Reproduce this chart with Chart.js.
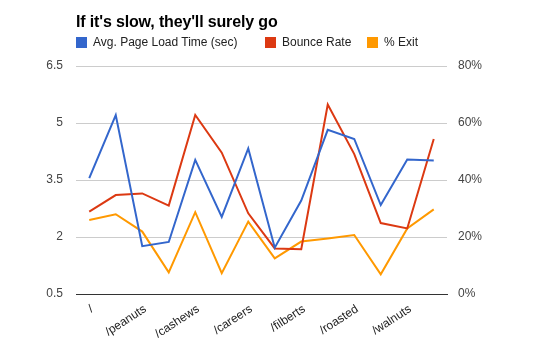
<!DOCTYPE html>
<html>
<head>
<meta charset="utf-8">
<script src="https://cdn.jsdelivr.net/npm/chart.js@4/dist/chart.umd.min.js"></script>
<style>
html,body{margin:0;padding:0;background:#fff;}
#wrap{position:relative;width:535px;height:361px;font-family:'Liberation Sans',Arial,sans-serif;}
#c{position:absolute;left:0;top:0;}
#title{position:absolute;left:76px;top:12px;font-size:16px;line-height:20px;font-weight:bold;color:#000;letter-spacing:-0.15px;white-space:nowrap;}
.lg{position:absolute;top:36px;height:13px;font-size:12px;line-height:13px;color:#222;white-space:nowrap;}
.lg i{position:absolute;left:0;top:1px;width:11px;height:11px;}
.lg span{position:absolute;left:17px;top:0;}
</style>
</head>
<body>
<div id="wrap">
  <canvas id="c" width="535" height="361"></canvas>
  <div id="title"></div>
  <div id="legend"></div>
</div>
<script>
const chartTitle = "If it's slow, they'll surely go";
const categories = ['/', '', '/peanuts', '', '/cashews', '', '/careers', '', '/filberts', '', '/roasted', '', '/walnuts', ''];
const loadTime = [3.55, 5.21, 1.76, 1.87, 4.03, 2.53, 4.33, 1.72, 2.96, 4.82, 4.58, 2.84, 4.04, 4.01];
const bounceRate = [28.9, 34.7, 35.3, 31.0, 62.8, 49.6, 28.3, 16.0, 15.7, 66.5, 49.1, 24.9, 23.0, 54.4];
const exitRate = [26.0, 28.0, 21.9, 7.6, 28.7, 7.3, 25.4, 12.5, 18.4, 19.5, 20.7, 6.9, 23.0, 29.7];
const leftTicks = [0.5, 2, 3.5, 5, 6.5];
const rightTicks = [0, 20, 40, 60, 80];
const seriesNames = ['Avg. Page Load Time (sec)', 'Bounce Rate', '% Exit'];
const seriesColors = ['#3366cc', '#dc3912', '#ff9900'];

const FONT = "'Liberation Sans', Arial, sans-serif";

document.getElementById('title').textContent = chartTitle;
const legendX = [76, 265, 367];
const legendEl = document.getElementById('legend');
seriesNames.forEach((name, i) => {
  const d = document.createElement('div');
  d.className = 'lg';
  d.style.left = legendX[i] + 'px';
  const b = document.createElement('i');
  b.style.background = seriesColors[i];
  const s = document.createElement('span');
  s.textContent = name;
  d.appendChild(b); d.appendChild(s);
  legendEl.appendChild(d);
});

new Chart(document.getElementById('c'), {
  type: 'line',
  data: {
    labels: categories,
    datasets: [
      {label: seriesNames[0], data: loadTime, yAxisID: 'yL', borderColor: seriesColors[0], backgroundColor: seriesColors[0], borderWidth: 2, pointRadius: 0, tension: 0},
      {label: seriesNames[1], data: bounceRate, yAxisID: 'yR', borderColor: seriesColors[1], backgroundColor: seriesColors[1], borderWidth: 2, pointRadius: 0, tension: 0},
      {label: seriesNames[2], data: exitRate, yAxisID: 'yR', borderColor: seriesColors[2], backgroundColor: seriesColors[2], borderWidth: 2, pointRadius: 0, tension: 0}
    ]
  },
  options: {
    responsive: false,
    devicePixelRatio: 1,
    animation: false,
    layout: {padding: {top: 66, left: 0, right: 0, bottom: 0}},
    plugins: {
      tooltip: {enabled: false},
      title: {display: false},
      legend: {display: false}
    },
    scales: {
      x: {
        type: 'category',
        offset: true,
        grid: {display: false},
        border: {display: true, color: '#333', width: 1},
        ticks: {
          autoSkip: false,
          minRotation: 33,
          maxRotation: 33,
          padding: 0,
          labelOffset: 3,
          color: '#222',
          font: {family: FONT, size: 12}
        },
        afterFit(s) { s.height = 67; }
      },
      yL: {
        type: 'linear',
        position: 'left',
        min: leftTicks[0],
        max: leftTicks[leftTicks.length - 1],
        afterBuildTicks(s) { s.ticks = leftTicks.map(v => ({value: v})); },
        grid: {color: '#cccccc', drawTicks: false, lineWidth: 1},
        border: {display: false},
        ticks: {
          padding: 13,
          color: '#444',
          font: {family: FONT, size: 12},
          callback: v => String(v)
        },
        afterFit(s) { s.width = 76; }
      },
      yR: {
        type: 'linear',
        position: 'right',
        min: rightTicks[0],
        max: rightTicks[rightTicks.length - 1],
        afterBuildTicks(s) { s.ticks = rightTicks.map(v => ({value: v})); },
        grid: {display: false, drawTicks: false},
        border: {display: false},
        ticks: {
          padding: 11,
          color: '#444',
          font: {family: FONT, size: 12},
          callback: v => v + '%'
        },
        afterFit(s) { s.width = 88; }
      }
    }
  }
});
</script>
</body>
</html>
